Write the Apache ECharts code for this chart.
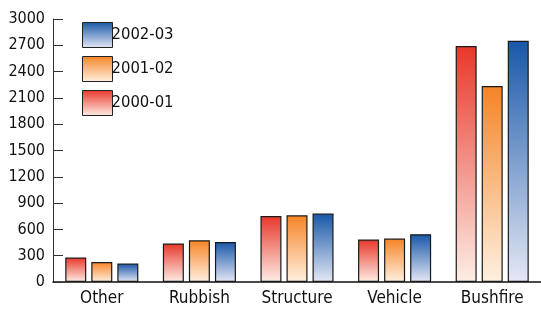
<!DOCTYPE html>
<html>
<head>
<meta charset="utf-8">
<script src="https://cdn.jsdelivr.net/npm/echarts@6/dist/echarts.min.js"></script>
<style>
    html, body { margin: 0; padding: 0; background: #fff; }
    #chart { width: 541px; height: 309px; }
</style>
</head>
<body>
<div id="chart"></div>
<script>
const categories = ['Other', 'Rubbish', 'Structure', 'Vehicle', 'Bushfire'];
const seriesNames = ['2000-01', '2001-02', '2002-03'];
const values2000 = [279, 439, 753, 484, 2692];
const values2001 = [228, 476, 761, 495, 2235];
const values2002 = [210, 457, 780, 545, 2752];
const yTicks = [0, 300, 600, 900, 1200, 1500, 1800, 2100, 2400, 2700, 3000];

const FONT = '"DejaVu Sans Condensed", Roboto, sans-serif';
const TEXT_COLOR = '#111';

function fade(top, bottom) {
    return new echarts.graphic.LinearGradient(0, 0, 0, 1, [
        {offset: 0, color: top},
        {offset: 1, color: bottom}
    ]);
}

const colors = [
    fade('#e8372a', '#fdeee6'),
    fade('#f58426', '#fff1e1'),
    fade('#1857a8', '#e5e8f5')
];

let chart = echarts.init(document.getElementById('chart'));

let series = [values2000, values2001, values2002].map(function (data, i) {
    return {
        name: seriesNames[i],
        type: 'bar',
        data: data,
        barWidth: 21,
        barGap: '24%',
        itemStyle: {
            color: colors[i],
            borderColor: '#1a1a1a',
            borderWidth: 1.2
        }
    };
});

chart.setOption({
    animation: false,
    textStyle: {fontFamily: FONT},
    grid: {left: 53, right: 0, top: 19, bottom: 27},
    legend: {
        orient: 'vertical',
        left: 77,
        top: 17,
        itemWidth: 30,
        itemHeight: 25,
        itemGap: 8,
        icon: 'rect',
        data: ['2002-03', '2001-02', '2000-01'],
        textStyle: {fontFamily: FONT, fontSize: 16.5, color: TEXT_COLOR, padding: [6, 0, 0, -6]},
        itemStyle: {borderColor: '#222', borderWidth: 1}
    },
    xAxis: {
        type: 'category',
        data: categories,
        axisLine: {lineStyle: {color: '#111', width: 1.5}},
        axisTick: {show: false},
        axisLabel: {fontFamily: FONT, fontSize: 17, color: TEXT_COLOR, margin: 8}
    },
    yAxis: {
        type: 'value',
        min: yTicks[0],
        max: yTicks[yTicks.length - 1],
        interval: 300,
        axisLine: {show: true, lineStyle: {color: '#333'}},
        axisTick: {show: true, inside: true, length: 10, lineStyle: {color: '#333'}},
        splitLine: {show: false},
        axisLabel: {
            fontFamily: FONT, fontSize: 16, color: TEXT_COLOR, margin: 8,
            formatter: function (v) { return String(v); }
        }
    },
    series: series
});

window.addEventListener('resize', function () {
    chart.resize();
});
</script>
</body>
</html>
